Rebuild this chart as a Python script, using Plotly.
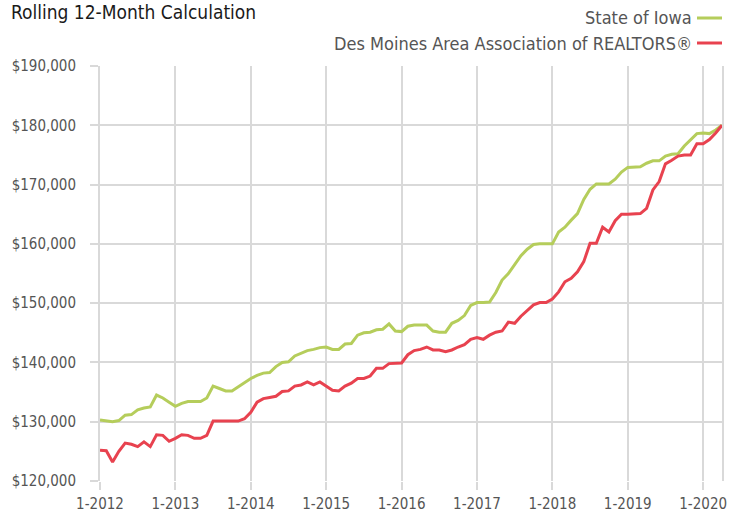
import plotly.graph_objects as go

# ---- data ----
years = list(range(2012, 2021))
months = [f"{m}-{y}" for y in years for m in range(1, 13)][:100]  # Jan 2012 .. Apr 2020
year_ticks = [f"1-{y}" for y in years]

iowa = [
    130300, 130200, 130000, 130200, 131100, 131200, 132000, 132300, 132500, 134500, 134000, 133300,
    132600, 133100, 133400, 133400, 133400, 134000, 136000, 135600, 135200, 135200, 135900, 136600,
    137300, 137800, 138200, 138300, 139300, 140000, 140100, 141100, 141500, 142000, 142200, 142500,
    142600, 142200, 142200, 143100, 143200, 144600, 145000, 145100, 145500, 145600, 146500, 145300,
    145200, 146100, 146300, 146300, 146300, 145300, 145100, 145100, 146600, 147100, 147900, 149600,
    150100, 150100, 150200, 151800, 153900, 155000, 156500, 158000, 159100, 159900, 160000, 160000,
    160000, 162000, 162800, 164000, 165100, 167500, 169200, 170100, 170100, 170100, 170900, 172100,
    172900, 172900, 173000, 173600, 174000, 174000, 174800, 175100, 175200, 176500, 177600, 178600,
    178700, 178600, 179200, 180000,
]

des_moines = [
    125200, 125100, 123200, 125000, 126400, 126200, 125800, 126600, 125800, 127800, 127700, 126700,
    127200, 127800, 127700, 127200, 127200, 127700, 130100, 130100, 130200, 130100, 130100, 130500,
    131600, 133300, 133900, 134100, 134300, 135100, 135200, 136000, 136200, 136700, 136200, 136700,
    136000, 135300, 135200, 136000, 136500, 137300, 137300, 137700, 139000, 139000, 139800, 139900,
    139900, 141300, 142000, 142200, 142600, 142100, 142100, 141800, 142100, 142600, 143000, 143900,
    144200, 143900, 144600, 145100, 145300, 146800, 146600, 147800, 148700, 149700, 150100, 150100,
    150700, 151900, 153600, 154200, 155300, 157000, 160100, 160100, 162800, 162000, 163900, 165000,
    165000, 165000, 165100, 166000, 169100, 170500, 173500, 174100, 174800, 175000, 175000, 176900,
    176900, 177600, 178700, 180000,
]

series_names = ["State of Iowa", "Des Moines Area Association of REALTORS®"]
colors = ["#b5cd5b", "#e8424f"]

FONT = "DejaVu Sans Condensed, Liberation Sans Narrow, Arial Narrow, sans-serif"
GRID = "#d9d9d9"

W, H = 743, 515
L, R, T, B = 100, 21, 66, 34
PW, PH = W - L - R, H - T - B


def px_to_paper(px, py):
    return (px - L) / PW, (H - B - py) / PH


fig = go.Figure()
fig.add_trace(go.Scatter(x=months, y=iowa, mode="lines", name=series_names[0],
                         line=dict(color=colors[0], width=3), showlegend=False))
fig.add_trace(go.Scatter(x=months, y=des_moines, mode="lines", name=series_names[1],
                         line=dict(color=colors[1], width=3), showlegend=False))

fig.update_layout(
    width=W, height=H,
    margin=dict(l=L, r=R, t=T, b=B, autoexpand=False),
    paper_bgcolor="white", plot_bgcolor="white",
    font=dict(family=FONT, color="#555555", size=15),
    xaxis=dict(
        type="category", categoryorder="array", categoryarray=months,
        range=[0, len(months) - 1],
        tickmode="array", tickvals=year_ticks, ticktext=year_ticks,
        showgrid=True, gridcolor=GRID, gridwidth=2,
        ticks="outside", ticklen=8, tickcolor=GRID, tickwidth=2,
        showline=False, zeroline=False, automargin=False,
        tickfont=dict(size=15, color="#555555"),
        ticklabelstandoff=1,
    ),
    yaxis=dict(
        range=[120000, 190000], dtick=10000, tick0=120000,
        tickprefix="$", tickformat=",d",
        showgrid=True, gridcolor=GRID, gridwidth=2,
        ticks="outside", ticklen=8, tickcolor=GRID, tickwidth=2,
        showline=True, linecolor=GRID, linewidth=2, mirror=True,
        zeroline=False, automargin=False,
        tickfont=dict(size=15, color="#555555"),
        ticklabelstandoff=11,
    ),
)

# title
tx, ty = px_to_paper(9, 12)
fig.add_annotation(text="Rolling 12-Month Calculation", xref="paper", yref="paper",
                   x=tx, y=ty, xanchor="left", yanchor="middle",
                   showarrow=False, font=dict(size=19, color="#1a1a1a", family=FONT))

# manual legend (symbol to the right of text)
leg_y = [18, 43]
for name, col, yy in zip(series_names, colors, leg_y):
    ax, ay = px_to_paper(694, yy)
    fig.add_annotation(text=name, xref="paper", yref="paper",
                       x=ax, y=ay, xanchor="right", yanchor="middle",
                       showarrow=False, font=dict(size=18, color="#555555", family=FONT))
    x0, _ = px_to_paper(697, yy)
    x1, _ = px_to_paper(722, yy)
    fig.add_shape(type="line", xref="paper", yref="paper",
                  x0=x0, x1=x1, y0=ay, y1=ay,
                  line=dict(color=col, width=3))

fig.write_html("out.html", config={"displayModeBar": False},
               post_script="document.body.style.margin='0';")
